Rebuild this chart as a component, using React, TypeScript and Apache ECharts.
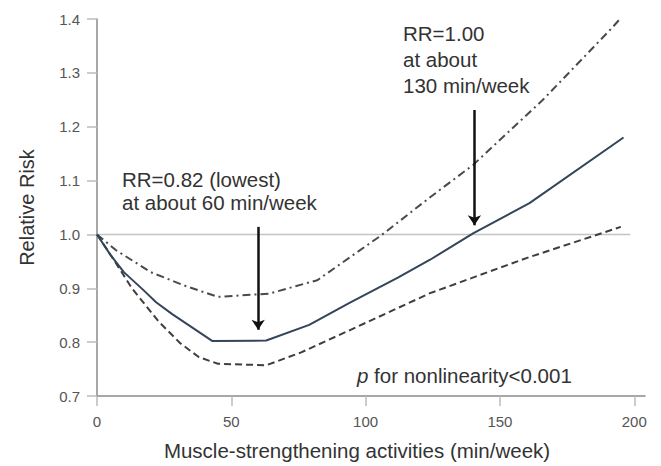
import React, { useEffect, useRef } from "react";
import * as echarts from "echarts";

// Axis ticks
const xTicks = [0, 50, 100, 150, 200];
const yTicks = [0.7, 0.8, 0.9, 1.0, 1.1, 1.2, 1.3, 1.4];

// Point estimate (solid)
const rrX = [0, 5, 10, 17, 22, 28, 43, 63, 79, 94, 112, 124, 140, 161, 196];
const rrY = [1.0, 0.962, 0.93, 0.898, 0.874, 0.852, 0.802, 0.803, 0.832, 0.873, 0.92, 0.953, 1.002, 1.058, 1.18];

// Upper 95% CI (dash-dot)
const upX = [0, 7, 20, 32, 45, 57, 64, 82, 106, 124, 140, 166, 192, 195];
const upY = [1.0, 0.971, 0.93, 0.906, 0.884, 0.888, 0.89, 0.915, 0.999, 1.069, 1.129, 1.25, 1.385, 1.402];

// Lower 95% CI (dashed)
const loX = [0, 6, 13, 23, 31, 38, 45, 63, 76, 94, 124, 161, 195];
const loY = [1.0, 0.955, 0.9, 0.838, 0.798, 0.772, 0.76, 0.757, 0.781, 0.822, 0.891, 0.958, 1.014];

// Reference line RR = 1
const refY = 1.0;
const refXEnd = 198.5;

// Arrows (x, top value, tip value)
const arrowX = [60, 140.5];
const arrowTop = [1.014, 1.231];
const arrowTip = [0.823, 1.017];

const ann1 = ["RR=0.82 (lowest)", "at about 60 min/week"];
const ann2 = ["RR=1.00", "at about", "130 min/week"];

const FONT = '"Liberation Sans", Arial, Helvetica, sans-serif';

const zip = (xs: number[], ys: number[]) => xs.map((x, i) => [x, ys[i]]);

export default function App() {
  const ref = useRef<HTMLDivElement>(null);
  useEffect(() => {
    if (!ref.current) return;
    const chart = echarts.init(ref.current, null, { renderer: "svg" });
    const lineCommon = {
      type: "line",
      showSymbol: false,
      symbol: "none",
      silent: true,
      z: 3,
    };
    chart.setOption({
      animation: false,
      backgroundColor: "#ffffff",
      textStyle: { fontFamily: FONT },
      grid: { left: 97, right: 16, top: 19, bottom: 70 },
      xAxis: {
        type: "value",
        min: 0,
        max: 204,
        interval: 50,
        name: "Muscle-strengthening activities (min/week)",
        nameLocation: "middle",
        nameGap: 44,
        nameTextStyle: { fontSize: 20.5, color: "#333", fontFamily: FONT, padding: [0, 28, 0, 0] },
        axisLine: { show: true, lineStyle: { color: "#8a8a8a", width: 1.5 } },
        axisTick: { show: true, length: 10, customValues: xTicks, lineStyle: { color: "#bbb", width: 1.5 } },
        axisLabel: { customValues: xTicks, fontSize: 15, color: "#555", margin: 18, fontFamily: FONT },
        splitLine: { show: false },
      },
      yAxis: {
        type: "value",
        min: 0.7,
        max: 1.4,
        interval: 0.1,
        name: "Relative Risk",
        nameLocation: "middle",
        nameGap: 60,
        nameRotate: 90,
        nameTextStyle: { fontSize: 20, color: "#333", fontFamily: FONT },
        axisLine: { show: true, lineStyle: { color: "#8a8a8a", width: 1.5 } },
        axisTick: { show: true, length: 10, customValues: yTicks, lineStyle: { color: "#bbb", width: 1.5 } },
        axisLabel: {
          customValues: yTicks,
          fontSize: 15,
          color: "#555",
          margin: 17,
          fontFamily: FONT,
          formatter: (v: number) => v.toFixed(1),
        },
        splitLine: { show: false },
      },
      series: [
        {
          ...lineCommon,
          name: "ref",
          data: [
            [0, refY],
            [refXEnd, refY],
          ],
          lineStyle: { color: "#c4c4c4", width: 1.5 },
          z: 1,
        },
        {
          ...lineCommon,
          name: "upper",
          data: zip(upX, upY),
          lineStyle: { color: "#4a4a4a", width: 2, type: [8, 4, 2, 4] },
        },
        {
          ...lineCommon,
          name: "lower",
          data: zip(loX, loY),
          lineStyle: { color: "#3e3e3e", width: 2, type: [7, 4] },
        },
        {
          ...lineCommon,
          name: "rr",
          data: zip(rrX, rrY),
          lineStyle: { color: "#34445a", width: 2 },
          markLine: {
            silent: true,
            symbol: ["none", "arrow"],
            symbolSize: 10,
            label: { show: false },
            lineStyle: { color: "#111", width: 2.5, type: "solid" },
            data: arrowX.map((x, i) => [
              { coord: [x, arrowTop[i]] },
              { coord: [x, arrowTip[i]] },
            ]),
          },
        },
      ],
      graphic: [
        {
          type: "text",
          left: 122,
          top: 168,
          style: {
            text: ann1.join("\n"),
            font: `20.5px ${FONT}`,
            fill: "#333",
            lineHeight: 23,
          },
        },
        {
          type: "text",
          left: 403,
          top: 20,
          style: {
            text: ann2.join("\n"),
            font: `20.5px ${FONT}`,
            fill: "#333",
            lineHeight: 26,
          },
        },
        {
          type: "text",
          left: 357,
          top: 363,
          style: {
            text: "{i|p} for nonlinearity<0.001",
            font: `20.5px ${FONT}`,
            fill: "#333",
            lineHeight: 24,
            rich: {
              i: { fontStyle: "italic", fontSize: 20.5, fontFamily: FONT, fill: "#333" },
            },
          },
        },
      ],
    });
    return () => chart.dispose();
  }, []);
  return (
    <div
      ref={ref}
      style={{ position: "fixed", left: 0, top: 0, width: 661, height: 466, background: "#fff" }}
    />
  );
}
